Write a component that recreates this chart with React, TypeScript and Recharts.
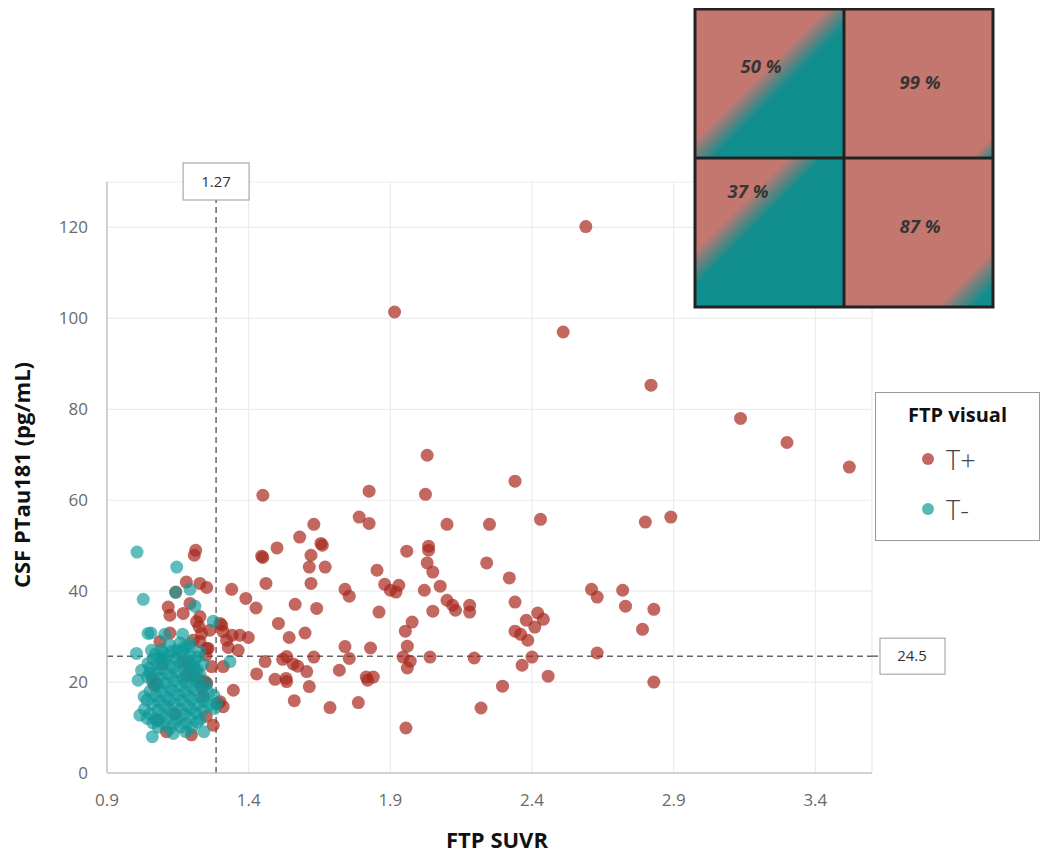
import React from 'react';
import {
  ScatterChart,
  Scatter,
  XAxis,
  YAxis,
  CartesianGrid,
  ReferenceLine,
} from 'recharts';

// FTP SUVR vs CSF PTau181, split by visual read
const tPlusPoints: [number, number][] = [
  [2.59, 120.2], [1.915, 101.4], [2.51, 97.0], [2.82, 85.3], [3.136, 78.0], [3.30, 72.7], [3.52, 67.3],
  [2.03, 69.9], [2.34, 64.2], [1.825, 62.0], [1.45, 61.1], [2.024, 61.3],
  [1.79, 56.3], [1.825, 54.9], [2.89, 56.3], [2.80, 55.2], [2.43, 55.8], [2.10, 54.7], [2.25, 54.7], [1.63, 54.7],
  [1.58, 51.9], [1.655, 50.5], [1.66, 50.1], [1.50, 49.5], [2.035, 49.9], [2.035, 49.0], [1.958, 48.8], [1.62, 47.9],
  [1.446, 47.7], [1.45, 47.4], [2.03, 46.2], [2.24, 46.2], [1.67, 45.3], [1.614, 45.3], [1.853, 44.6], [2.05, 44.2],
  [1.88, 41.5], [1.93, 41.3], [1.90, 40.2], [1.92, 39.8], [2.076, 41.1], [2.02, 40.2], [1.461, 41.7], [1.62, 41.7],
  [1.74, 40.4], [1.755, 38.9], [2.10, 38.0], [2.12, 36.9],
  [2.61, 40.4], [2.72, 40.2], [2.32, 42.9], [2.63, 38.7], [2.73, 36.7], [2.83, 36.0], [2.79, 31.6],
  [1.39, 38.4], [1.34, 40.4], [1.426, 36.3], [1.564, 37.1], [1.64, 36.2], [1.86, 35.4], [2.05, 35.6], [2.13, 35.8],
  [2.18, 36.9], [2.18, 35.4], [2.34, 37.6], [2.42, 35.2], [2.44, 33.8], [2.38, 33.6], [2.41, 32.1], [1.977, 33.2],
  [1.505, 32.9], [1.543, 29.8], [1.599, 30.8], [1.953, 31.2], [2.34, 31.2], [2.36, 30.5],
  [1.305, 32.5], [1.31, 31.1], [1.342, 30.3], [1.369, 30.3], [1.399, 29.8], [1.363, 27.0], [1.328, 27.6], [1.322, 29.2],
  [1.74, 27.8], [1.83, 27.5], [1.96, 27.9], [2.385, 29.2], [2.63, 26.4],
  [1.458, 24.5], [1.534, 25.6], [1.52, 25.0], [1.557, 24.0], [1.573, 23.5], [1.63, 25.5], [1.755, 25.2], [1.945, 25.5],
  [1.97, 24.6], [2.04, 25.5], [2.196, 25.3], [2.365, 23.7], [2.40, 25.5], [1.96, 23.1],
  [1.428, 21.8], [1.493, 20.6], [1.532, 20.8], [1.534, 20.1], [1.72, 22.6], [1.605, 22.3], [1.815, 21.1], [1.84, 21.1],
  [1.82, 20.4], [2.457, 21.3], [2.83, 20.0], [1.614, 19.0], [2.296, 19.1], [1.346, 18.2], [1.561, 15.9], [1.787, 15.5],
  [1.687, 14.4], [2.22, 14.3], [1.955, 9.9],
  // close to the T- cluster
  [1.213, 49.0], [1.208, 47.9], [1.18, 42.0], [1.228, 41.7], [1.252, 40.8], [1.143, 39.8], [1.193, 37.3], [1.116, 36.5],
  [1.122, 34.7], [1.169, 35.1], [1.228, 34.4], [1.216, 33.3], [1.225, 32.2], [1.263, 31.4], [1.234, 30.7], [1.299, 32.9],
  [1.087, 28.9], [1.122, 30.8], [1.204, 29.2], [1.228, 28.9], [1.252, 27.4], [1.249, 25.9], [1.257, 27.4], [1.269, 23.4],
  [1.31, 23.4], [1.18, 21.5], [1.198, 21.2], [1.228, 20.4], [1.252, 19.7], [1.246, 20.1], [1.234, 19.0], [1.066, 19.3],
  [1.075, 19.7], [1.24, 16.8], [1.29, 15.3], [1.299, 15.7], [1.31, 14.6], [1.275, 10.5], [1.198, 8.4], [1.11, 9.1],
  [1.08, 11.6], [1.21, 22.5], [1.19, 23.8], [1.17, 24.5], [1.14, 13.0], [1.25, 12.5], [1.095, 24.0], [1.06, 21.0],
];

const tMinusPoints: [number, number][] = [
  [1.006, 48.6], [1.146, 45.3], [1.028, 38.2], [1.193, 40.4], [1.142, 39.7], [1.21, 36.7],
  [1.045, 30.7], [1.055, 30.8], [1.104, 30.5], [1.167, 30.5], [1.275, 33.4], [1.004, 26.3], [1.334, 24.5], [1.01, 20.4],
  [1.016, 12.7], [1.06, 8.0], [1.134, 8.7], [1.178, 9.1], [1.242, 9.1], [1.277, 17.1], [1.287, 15.3], [1.031, 16.8],
  [1.057, 27.0], [1.098, 26.3], [1.087, 25.2], [1.146, 27.0], [1.175, 27.8], [1.193, 28.5], [1.228, 26.7], [1.204, 23.4],
  [1.022, 22.6], [1.051, 21.9], [1.045, 24.1], [1.28, 14.2],
  // dense core
  [1.121, 28.2], [1.158, 28.6], [1.188, 27.6], [1.092, 27.1], [1.131, 26.8], [1.169, 26.9],
  [1.071, 26.2], [1.113, 25.8], [1.152, 26.1], [1.192, 25.9], [1.218, 25.5],
  [1.063, 25.1], [1.101, 24.8], [1.142, 25.2], [1.181, 24.9], [1.209, 24.7],
  [1.082, 24.0], [1.123, 23.8], [1.161, 24.2], [1.198, 23.7], [1.238, 23.9],
  [1.052, 23.1], [1.093, 22.9], [1.133, 23.2], [1.172, 22.8], [1.219, 22.7],
  [1.072, 22.0], [1.112, 21.8], [1.151, 22.2], [1.189, 21.9], [1.228, 21.7],
  [1.043, 21.1], [1.089, 20.9], [1.128, 21.2], [1.168, 20.8], [1.207, 21.1],
  [1.061, 20.0], [1.102, 19.8], [1.141, 20.2], [1.179, 19.9], [1.218, 20.1], [1.251, 19.6],
  [1.081, 19.1], [1.122, 18.8], [1.162, 19.2], [1.201, 18.9], [1.238, 18.7],
  [1.052, 18.0], [1.091, 17.8], [1.131, 18.1], [1.171, 17.9], [1.212, 18.2], [1.259, 17.7],
  [1.071, 17.0], [1.109, 16.8], [1.152, 17.1], [1.189, 16.9], [1.231, 16.7],
  [1.041, 16.0], [1.082, 15.8], [1.121, 16.1], [1.161, 15.9], [1.199, 16.2], [1.241, 15.8],
  [1.062, 15.1], [1.101, 14.9], [1.139, 15.2], [1.181, 14.8], [1.221, 15.0], [1.262, 14.9],
  [1.032, 14.0], [1.079, 13.8], [1.118, 14.2], [1.158, 13.9], [1.198, 14.1], [1.238, 13.8],
  [1.051, 13.0], [1.092, 12.8], [1.131, 13.1], [1.171, 12.9], [1.212, 13.2],
  [1.042, 12.0], [1.071, 11.8], [1.111, 12.1], [1.149, 11.9], [1.191, 12.2], [1.229, 11.8],
  [1.062, 11.0], [1.102, 10.8], [1.141, 11.1], [1.181, 10.9], [1.219, 11.2],
  [1.081, 10.1], [1.121, 9.8], [1.161, 10.2], [1.199, 9.9],
];

const X_TICKS = [0.9, 1.4, 1.9, 2.4, 2.9, 3.4];
const Y_TICKS = [0, 20, 40, 60, 80, 100, 120];
const SUVR_CUT = 1.285;
const SUVR_CUT_LABEL = '1.27';
const PTAU_CUT = 25.7;
const PTAU_CUT_LABEL = '24.5';

// quadrant agreement inset
const INSET_PCT = [50, 99, 37, 87];
const INSET_TEXT_POS = [
  [66, 64],
  [76, 80],
  [53, 40],
  [76, 75],
];

const RED = '#a8281c';
const TEAL = '#0f9a9a';
const FONT = '"Open Sans", "Noto Sans", sans-serif';

const tPlusData = tPlusPoints.map(([x, y]) => ({ x, y }));
const tMinusData = tMinusPoints.map(([x, y]) => ({ x, y }));

const dot = (color: string, opacity: number) => (props: any) => (
  <circle cx={props.cx} cy={props.cy} r={6.5} fill={color} fillOpacity={opacity} />
);

function VLineLabel({ viewBox }: any) {
  const cx = viewBox.x;
  const top = viewBox.y - 19;
  return (
    <g>
      <rect x={cx - 33} y={top} width={66} height={37} fill="#fff" stroke="#999" strokeWidth={1} />
      <text x={cx} y={top + 24} textAnchor="middle" fontSize={15} fontFamily={FONT} fill="#333">
        {SUVR_CUT_LABEL}
      </text>
    </g>
  );
}

function HLineLabel({ viewBox }: any) {
  const right = viewBox.x + viewBox.width;
  const cy = viewBox.y;
  return (
    <g>
      <line x1={right} x2={right + 8} y1={cy} y2={cy} stroke="#666" strokeWidth={1.5} strokeDasharray="6 4" />
      <rect x={right + 8} y={cy - 18} width={65} height={36} fill="#fff" stroke="#999" strokeWidth={1} />
      <text x={right + 40} y={cy + 5} textAnchor="middle" fontSize={15} fontFamily={FONT} fill="#333">
        {PTAU_CUT_LABEL}
      </text>
    </g>
  );
}

function LegendBox() {
  const items = [
    { label: 'T+', color: RED },
    { label: 'T-', color: TEAL },
  ];
  return (
    <div
      style={{
        position: 'absolute',
        left: 867,
        top: 384,
        width: 163,
        height: 147,
        border: '1.5px solid #9a9a9a',
        background: '#fff',
        fontFamily: FONT,
      }}
    >
      <div style={{ textAlign: 'center', fontWeight: 700, fontSize: 20, color: '#111', marginTop: 8 }}>
        FTP visual
      </div>
      {items.map(it => (
        <div key={it.label} style={{ display: 'flex', alignItems: 'center', marginLeft: 46, marginTop: 12, height: 38 }}>
          <span
            style={{
              width: 12,
              height: 12,
              borderRadius: 6,
              background: it.color,
              opacity: 0.7,
              display: 'inline-block',
              marginRight: 12,
            }}
          />
          <span style={{ fontSize: 27, color: '#444', fontWeight: 300 }}>{it.label}</span>
        </div>
      ))}
    </div>
  );
}

function Inset() {
  const size = 149;
  return (
    <svg width={302} height={302} style={{ position: 'absolute', left: 685, top: -1 }}>
      <defs>
        {INSET_PCT.map((p, i) => {
          const t = p / 100;
          return (
            <linearGradient key={i} id={`cell-${i}`} x1="0" y1="0" x2="1" y2="1">
              <stop offset={Math.max(0, t - 0.06)} stopColor="#c4776f" />
              <stop offset={Math.min(1, t + 0.06)} stopColor="#118e8e" />
            </linearGradient>
          );
        })}
      </defs>
      {INSET_PCT.map((p, i) => {
        const col = i % 2;
        const row = Math.floor(i / 2);
        const x0 = 2 + col * size;
        const y0 = 2 + row * size;
        return (
          <g key={i}>
            <rect x={x0} y={y0} width={size} height={size} fill={`url(#cell-${i})`} />
            <text
              x={x0 + INSET_TEXT_POS[i][0]}
              y={y0 + INSET_TEXT_POS[i][1]}
              textAnchor="middle"
              fontSize={18.5}
              fontWeight={700}
              fontStyle="italic"
              fontFamily={FONT}
              fill="#363636"
            >
              {`${p} %`}
            </text>
          </g>
        );
      })}
      <rect x={2} y={2} width={size * 2} height={size * 2} fill="none" stroke="#222" strokeWidth={3} />
      <line x1={2 + size} x2={2 + size} y1={2} y2={2 + 2 * size} stroke="#222" strokeWidth={3} />
      <line x1={2} x2={2 + 2 * size} y1={2 + size} y2={2 + size} stroke="#222" strokeWidth={3} />
    </svg>
  );
}

export default function App() {
  return (
    <div style={{ position: 'relative', width: 1034, height: 845 }}>
      <ScatterChart width={1034} height={845} margin={{ top: 174, right: 170, left: 0, bottom: 0 }}>
        <CartesianGrid stroke="#ececec" strokeWidth={1.2} />
        <XAxis
          type="number"
          dataKey="x"
          domain={[0.9, 3.6]}
          ticks={X_TICKS}
          allowDataOverflow
          height={80}
          tickLine={false}
          tickSize={0}
          tickMargin={21}
          axisLine={{ stroke: '#c6c6c6', strokeWidth: 1.5 }}
          tick={{ fill: '#6a6a6a', fontSize: 17, fontFamily: FONT }}
          tickFormatter={(v: number) => v.toFixed(1)}
        />
        <YAxis
          type="number"
          dataKey="y"
          domain={[0, 130]}
          ticks={Y_TICKS}
          allowDataOverflow
          width={99}
          tickLine={false}
          tickSize={0}
          tickMargin={19}
          axisLine={{ stroke: '#c6c6c6', strokeWidth: 1.5 }}
          tick={{ fill: '#6a6a6a', fontSize: 17, fontFamily: FONT }}
        />
        <Scatter name="T+" data={tPlusData} shape={dot(RED, 0.7)} isAnimationActive={false} />
        <Scatter name="T-" data={tMinusData} shape={dot(TEAL, 0.66)} isAnimationActive={false} />
        <ReferenceLine
          x={SUVR_CUT}
          stroke="#666"
          strokeWidth={1.5}
          strokeDasharray="6 4"
          label={<VLineLabel />}
        />
        <ReferenceLine
          y={PTAU_CUT}
          stroke="#666"
          strokeWidth={1.5}
          strokeDasharray="6 4"
          label={<HLineLabel />}
        />
        <text
          x={489}
          y={840}
          textAnchor="middle"
          fontSize={22}
          fontWeight={700}
          fontFamily={FONT}
          fill="#111"
        >
          FTP SUVR
        </text>
        <text
          transform="translate(22, 467) rotate(-90)"
          textAnchor="middle"
          fontSize={22}
          fontWeight={700}
          fontFamily={FONT}
          fill="#111"
        >
          CSF PTau181 (pg/mL)
        </text>
      </ScatterChart>
      <LegendBox />
      <Inset />
    </div>
  );
}
